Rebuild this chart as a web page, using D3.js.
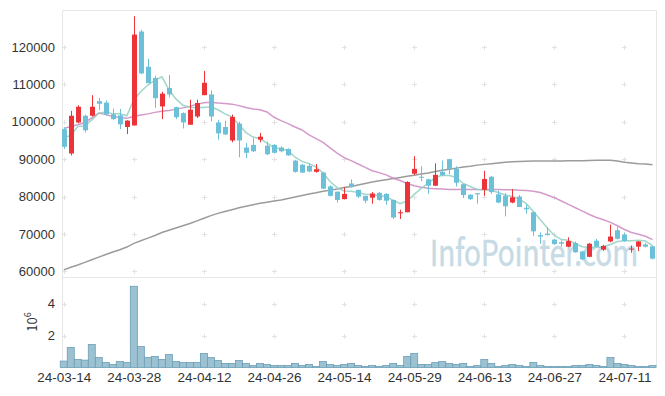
<!DOCTYPE html>
<html>
<head>
<meta charset="utf-8">
<script src="https://cdn.jsdelivr.net/npm/d3@7"></script>
<style>
body { margin: 0; background: #fff; }
svg { display: block; font-family: "Noto Sans CJK KR", "Noto Sans", sans-serif; }
</style>
</head>
<body>
<svg id="chart" width="665" height="396"></svg>
<script>
// trading days (yy-mm-dd)
var dates = ["24-03-14","24-03-15","24-03-18","24-03-19","24-03-20","24-03-21","24-03-22","24-03-25","24-03-26","24-03-27",
  "24-03-28","24-03-29","24-04-01","24-04-02","24-04-03","24-04-04","24-04-05","24-04-08","24-04-09","24-04-11",
  "24-04-12","24-04-15","24-04-16","24-04-17","24-04-18","24-04-19","24-04-22","24-04-23","24-04-24","24-04-25",
  "24-04-26","24-04-29","24-04-30","24-05-02","24-05-03","24-05-07","24-05-08","24-05-09","24-05-10","24-05-13",
  "24-05-14","24-05-16","24-05-17","24-05-20","24-05-21","24-05-22","24-05-23","24-05-24","24-05-27","24-05-28",
  "24-05-29","24-05-30","24-05-31","24-06-03","24-06-04","24-06-05","24-06-07","24-06-10","24-06-11","24-06-12",
  "24-06-13","24-06-14","24-06-17","24-06-18","24-06-19","24-06-20","24-06-21","24-06-24","24-06-25","24-06-26",
  "24-06-27","24-06-28","24-07-01","24-07-02","24-07-03","24-07-04","24-07-05","24-07-08","24-07-09","24-07-10",
  "24-07-11","24-07-12","24-07-15","24-07-16","24-07-17"];

var open = [98000,91500,99800,101600,101600,105500,105100,102000,101700,98600,
  99000,124100,114700,111700,104100,109000,103900,102300,99200,101400,
  107100,107300,99800,98600,95000,99500,93100,93800,95200,93600,
  93800,93100,92700,89600,88500,88200,86600,86400,82700,81300,
  79300,83500,81800,80200,79700,81000,80700,79100,75700,75800,
  86100,85300,84600,82900,86600,90000,87400,83300,80500,80900,
  81800,85300,80600,80200,78400,80000,77000,75800,69700,70100,
  68500,67800,66600,67600,65300,63900,68200,65800,68000,71000,
  69800,65900,66600,67200,66700];
var high = [98500,102900,104400,101900,107100,106400,105700,103500,103400,100400,
  128200,124600,116800,112300,108000,112500,104000,102500,105900,105900,
  113600,108400,100500,100300,101900,100000,94300,95600,97000,94700,
  94000,93400,92900,89800,88700,88800,88700,86600,83000,81400,
  82500,84600,81800,80200,81200,81200,80900,79100,76500,84100,
  90800,88100,84800,88900,89600,90100,88100,83400,80600,80900,
  86900,85500,81600,80900,82000,80400,77900,76000,70400,71800,
  68700,68300,69100,68000,65500,67600,68700,67100,72500,71900,
  70300,66900,68100,67600,66900];
var low = [92700,91000,99600,97100,101400,103100,101600,100500,98000,96700,
  99000,112700,110300,103700,100700,106500,100700,98200,99200,101000,
  107100,100100,95200,96400,94500,90500,90300,91900,94500,91100,
  91500,91800,90900,86400,86300,86500,86400,82000,80000,78400,
  79300,82400,79600,78200,78100,78900,77800,74000,74000,75800,
  85800,84100,80700,82800,85600,86000,82700,79600,79100,78100,
  80200,80700,78200,74700,78200,77200,75400,69500,67400,69600,
  67100,66600,66500,65000,63000,63800,66400,65500,67800,68500,
  67900,65000,65400,66400,63200];
var close = [93300,101600,104000,97700,104000,104800,102000,100700,99300,100300,
  123300,112900,110300,106300,107500,107300,101200,99800,103200,105000,
  110400,101400,96900,96600,101300,95000,91700,92100,96000,91300,
  91700,92100,91000,86600,86400,86700,87300,82100,80200,79100,
  80700,82500,80000,78900,80800,79100,78900,74400,75800,83900,
  87400,85100,82900,85800,85700,87300,83700,80400,79300,80600,
  84700,81200,78400,77400,79800,77200,76600,70700,69300,69700,
  67300,67400,68100,65100,63200,67400,66600,66800,69300,68700,
  68100,66100,68000,66600,63400];

// volume, millions of shares
var volume = [0.40,1.25,0.50,0.46,1.44,0.62,0.31,0.19,0.37,0.31,
  5.08,1.31,0.62,0.69,0.50,0.81,0.37,0.31,0.31,0.31,
  0.87,0.62,0.44,0.25,0.25,0.44,0.25,0.12,0.25,0.19,
  0.12,0.12,0.12,0.25,0.12,0.19,0.06,0.37,0.19,0.12,
  0.19,0.25,0.12,0.06,0.12,0.06,0.12,0.25,0.12,0.69,
  0.87,0.19,0.19,0.31,0.37,0.25,0.19,0.25,0.06,0.12,
  0.50,0.25,0.06,0.12,0.19,0.12,0.06,0.31,0.12,0.06,
  0.06,0.06,0.06,0.12,0.12,0.19,0.12,0.06,0.62,0.25,
  0.19,0.12,0.06,0.06,0.12];

// moving averages as drawn
var ma5 = [95800,96300,98700,98900,100500,102300,102600,102100,102100,101600,
  105900,108100,109800,111100,112000,108600,106100,104400,103900,103800,
  103800,104000,103200,102100,101300,99200,97100,95900,95500,94300,
  93100,92700,92300,90500,89400,88800,87900,86300,84000,82400,
  81500,81400,81100,80600,80500,80300,80000,79000,78100,78800,
  80600,82200,83500,85100,85700,85600,85100,83500,82700,81900,
  81800,81600,81100,80400,80000,79300,78100,76000,73800,71600,
  69600,68500,68300,67400,66600,66400,66400,66600,67200,68000,
  68200,68200,68300,68100,66900];
var ma20 = [98200,98700,99200,99800,101000,102300,101900,101400,101100,100900,
  101400,101800,102100,102500,102800,103000,103300,103700,104100,104700,
  105100,105200,105000,104900,104700,104300,103800,103400,103200,102600,
  101200,100300,99500,98600,97800,96500,95500,94500,93000,91600,
  90400,89600,88700,87800,86900,86400,85800,84900,84300,83500,
  82900,82500,82200,82100,82000,81900,81900,81900,81900,81900,
  81900,81900,81900,81800,81800,81700,81600,81400,81100,80400,
  79700,78800,77900,77000,76100,75200,74400,73800,73100,72200,
  71200,70400,69900,69400,68500];
var ma120 = [60400,61100,61700,62400,63100,63800,64500,65200,65800,66500,
  67500,68200,68900,69600,70400,71000,71600,72200,72800,73500,
  74200,74900,75500,76000,76500,77000,77400,77800,78200,78500,
  78800,79100,79500,79900,80300,80700,81000,81400,81700,82000,
  82400,82700,83100,83500,83900,84200,84500,84800,85100,85400,
  85700,86000,86300,86700,87000,87300,87600,87900,88100,88400,
  88600,88800,89000,89200,89300,89400,89450,89500,89500,89500,
  89500,89500,89550,89600,89600,89650,89700,89700,89700,89500,
  89200,89000,88800,88700,88500];

var priceTicks = [60000,70000,80000,90000,100000,110000,120000];
var volTicks = [2,4];
var dateTicks = d3.range(0, dates.length, 10);

var svg = d3.select("#chart");
var left = 62, right = 656, pTop = 10, pBottom = 277, vBottom = 367.5;

var x = d3.scaleLinear().domain([-0.25, dates.length - 0.5]).range([left, right]);
var y = d3.scaleLinear().domain([58500, 129860]).range([pBottom, pTop]);
var yv = d3.scaleLinear().domain([0, 5.66]).range([vBottom, pBottom]);

var upColor = "#ec3338", downColor = "#6cc0d8";
var idx = d3.range(dates.length);

// frame
svg.append("path")
	.attr("d", "M" + (left + 0.5) + "," + vBottom + "V" + (pTop + 0.5) + "H" + (right + 0.5) + "V" + vBottom)
	.attr("fill", "none").attr("stroke", "#e6e6e6");
svg.append("line")
	.attr("x1", left).attr("x2", right).attr("y1", pBottom + 0.5).attr("y2", pBottom + 0.5)
	.attr("stroke", "#e6e6e6");

// watermark
svg.append("text")
	.attr("x", 430).attr("y", 266)
	.attr("font-size", 36)
	.attr("textLength", 208).attr("lengthAdjust", "spacingAndGlyphs")
	.attr("fill", "#c7dbe5")
	.attr("stroke", "#c7dbe5").attr("stroke-width", 0.6)
	.text("InfoPointer.com");

// grid crosses
function crosses(rows) {
	var pts = [];
	dateTicks.forEach(function(i) { rows.forEach(function(r) { pts.push([Math.round(x(i)) + 0.5, r]); }); });
	svg.append("g").selectAll("path").data(pts).enter().append("path")
		.attr("d", function(d) { return "M" + (d[0] - 2.5) + "," + d[1] + "h5M" + d[0] + "," + (d[1] - 2.5) + "v5"; })
		.attr("stroke", "#e2e2e2").attr("stroke-width", 1);
}
crosses(priceTicks.map(function(t) { return Math.round(y(t)) + 0.5; }));
crosses(volTicks.map(function(t) { return Math.round(yv(t)) + 0.5; }));

// axes labels
var yAxis = d3.axisLeft(y).tickValues(priceTicks).tickFormat(d3.format("d")).tickSize(0).tickPadding(7);
svg.append("g").attr("transform", "translate(" + left + ",0)").call(yAxis)
	.call(function(g) { g.select(".domain").remove(); })
	.selectAll("text").attr("font-size", 13).attr("fill", "#333").attr("font-family", null);

var vAxis = d3.axisLeft(yv).tickValues(volTicks).tickFormat(d3.format("d")).tickSize(0).tickPadding(7);
svg.append("g").attr("transform", "translate(" + left + ",0)").call(vAxis)
	.call(function(g) { g.select(".domain").remove(); })
	.selectAll("text").attr("font-size", 13).attr("fill", "#333").attr("font-family", null);

var xAxis = d3.axisBottom(x).tickValues(dateTicks).tickFormat(function(i) { return dates[i]; }).tickSize(0).tickPadding(5);
svg.append("g").attr("transform", "translate(0," + vBottom + ")").call(xAxis)
	.call(function(g) { g.select(".domain").remove(); })
	.selectAll("text").attr("font-size", 13.5).attr("fill", "#333").attr("font-family", null);

var unit = svg.append("text")
	.attr("transform", "translate(37,322) rotate(-90)")
	.attr("text-anchor", "middle")
	.attr("font-size", 13).attr("fill", "#333");
unit.append("tspan").text("10");
unit.append("tspan").attr("dy", -6).attr("font-size", 9).text("6");

// moving averages
function maLine(vals, color) {
	svg.append("path")
		.datum(idx)
		.attr("fill", "none")
		.attr("stroke", color).attr("stroke-width", 1.5).attr("stroke-opacity", 0.85)
		.attr("d", d3.line().x(function(i) { return x(i); }).y(function(i) { return y(vals[i]); }));
}
maLine(ma120, "#8a8a8a");
maLine(ma20, "#cc88c2");
maLine(ma5, "#8fd0c2");

// candles
var candle = svg.append("g").selectAll("g").data(idx).enter().append("g")
	.attr("fill", function(i) { return close[i] >= open[i] ? upColor : downColor; })
	.attr("stroke", function(i) { return close[i] >= open[i] ? upColor : downColor; });
candle.append("line")
	.attr("x1", function(i) { return Math.round(x(i)) + 0.5; })
	.attr("x2", function(i) { return Math.round(x(i)) + 0.5; })
	.attr("y1", function(i) { return y(high[i]); })
	.attr("y2", function(i) { return y(low[i]); })
	.attr("stroke-width", 1);
candle.append("rect")
	.attr("x", function(i) { return Math.round(x(i)) - 2; })
	.attr("width", 5)
	.attr("y", function(i) { return y(Math.max(open[i], close[i])); })
	.attr("height", function(i) { return Math.max(1, Math.abs(y(open[i]) - y(close[i]))); })
	.attr("stroke", "none");

// volume bars
svg.append("g").selectAll("rect").data(idx).enter().append("rect")
	.attr("x", function(i) { return x(i - 0.5); })
	.attr("width", x(1) - x(0))
	.attr("y", function(i) { return yv(volume[i]); })
	.attr("height", function(i) { return vBottom - yv(volume[i]); })
	.attr("fill", "#9cc2d2")
	.attr("stroke", "#6a9fb7").attr("stroke-width", 0.8);
</script>
</body>
</html>
